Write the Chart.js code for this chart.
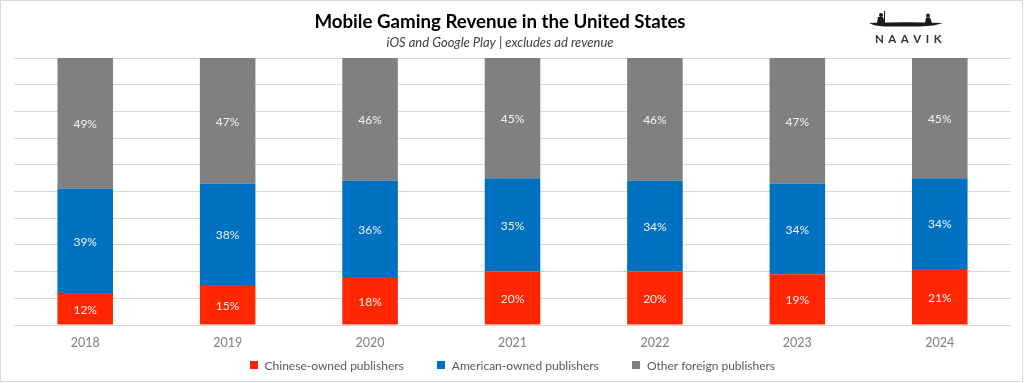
<!DOCTYPE html>
<html><head><meta charset="utf-8">
<script src="https://cdn.jsdelivr.net/npm/chart.js@4"></script>
<style>html,body{margin:0;padding:0;background:#fff}canvas{display:block}</style>
</head><body>
<canvas id="c" width="1024" height="383"></canvas>
<script>
const categories = ["2018","2019","2020","2021","2022","2023","2024"];
const chinese = [12,15,18,20,20,19,21];
const american = [39,38,36,35,34,34,34];
const otherForeign = [49,47,46,45,46,47,45];
const seriesNames = ["Chinese-owned publishers","American-owned publishers","Other foreign publishers"];
const seriesColors = ["#ff2600","#0070c0","#808080"];
const titleText = "Mobile Gaming Revenue in the United States";
const subtitleText = "iOS and Google Play | excludes ad revenue";
const FONT = "Lato, 'Open Sans', sans-serif";

const labelPlugin = {
  id: 'barLabels',
  afterDatasetsDraw(chart) {
    const ctx = chart.ctx;
    ctx.save();
    ctx.font = "12px " + FONT;
    ctx.fillStyle = "#f2f2f2";
    ctx.textAlign = "center";
    ctx.textBaseline = "middle";
    chart.data.datasets.forEach((ds, i) => {
      const meta = chart.getDatasetMeta(i);
      meta.data.forEach((bar, j) => {
        const top = Math.min(bar.y, bar.base), bot = Math.max(bar.y, bar.base);
        ctx.fillText(ds.data[j] + "%", bar.x, (top + bot) / 2 + 1);
      });
    });
    ctx.restore();
  }
};

const decorPlugin = {
  id: 'decor',
  afterDraw(chart) {
    const ctx = chart.ctx;
    ctx.save();
    ctx.strokeStyle = "#d9d9d9";
    ctx.lineWidth = 1;
    ctx.strokeRect(0.5, 0.5, 1022, 381);
    // titles
    ctx.textAlign = "center";
    ctx.textBaseline = "middle";
    ctx.fillStyle = "#000";
    ctx.font = "bold 18.7px " + FONT;
    ctx.fillText(titleText, 500, 22);
    ctx.fillStyle = "#404040";
    ctx.font = "italic 13px " + FONT;
    ctx.fillText(subtitleText, 500, 43);
    // legend
    ctx.font = "12px " + FONT;
    ctx.textAlign = "left";
    const box = 8, gapText = 6.6, gapItem = 33.5;
    const widths = seriesNames.map(n => box + gapText + ctx.measureText(n).width);
    const total = widths.reduce((a, b) => a + b, 0) + gapItem * (widths.length - 1);
    let lx = 512.5 - total / 2;
    const ly = 365;
    seriesNames.forEach((n, i) => {
      ctx.fillStyle = seriesColors[i];
      ctx.fillRect(Math.round(lx), ly - 4, box, box);
      ctx.fillStyle = "#595959";
      ctx.fillText(n, lx + box + gapText, ly + 1);
      lx += widths[i] + gapItem;
    });
    // logo: boat
    ctx.fillStyle = "#1a1a1a";
    ctx.beginPath();
    ctx.moveTo(869, 23);
    ctx.quadraticCurveTo(905, 21.5, 943, 23);
    ctx.quadraticCurveTo(935, 26, 920, 26.5);
    ctx.lineTo(885, 26.5);
    ctx.quadraticCurveTo(874, 26, 869, 23);
    ctx.fill();
    ctx.beginPath();
    ctx.arc(881, 15, 2, 0, Math.PI * 2);
    ctx.fill();
    ctx.beginPath();
    ctx.moveTo(877, 23); ctx.lineTo(878, 17); ctx.lineTo(883, 17); ctx.lineTo(885, 23); ctx.fill();
    ctx.fillRect(884, 11, 1, 12);
    ctx.beginPath();
    ctx.arc(928, 15.5, 2, 0, Math.PI * 2);
    ctx.fill();
    ctx.beginPath();
    ctx.moveTo(925, 23); ctx.lineTo(926, 17.5); ctx.lineTo(930, 17.5); ctx.lineTo(932, 23); ctx.fill();
    ctx.font = "bold 11.5px " + FONT;
    ctx.fillStyle = "#333";
    ctx.textAlign = "left";
    const letters = "NAAVIK".split("");
    let x = 875;
    letters.forEach(l => { ctx.fillText(l, x, 39); x += ctx.measureText(l).width + 4.5; });
    ctx.restore();
  }
};

new Chart(document.getElementById('c'), {
  type: 'bar',
  data: {
    labels: categories,
    datasets: [
      { label: seriesNames[0], data: chinese, backgroundColor: seriesColors[0] },
      { label: seriesNames[1], data: american, backgroundColor: seriesColors[1] },
      { label: seriesNames[2], data: otherForeign, backgroundColor: seriesColors[2] }
    ]
  },
  options: {
    responsive: false,
    animation: false,
    layout: { padding: { left: 14, right: 13, top: 58, bottom: 23 } },
    datasets: { bar: { barPercentage: 0.39, categoryPercentage: 1.0 } },
    scales: {
      x: {
        stacked: true,
        grid: { display: false, drawTicks: false },
        border: { display: false },
        ticks: { color: "#7f7f7f", font: { family: FONT, size: 12.5 }, padding: 10 }
      },
      y: {
        stacked: true,
        min: 0, max: 100,
        ticks: { display: false, stepSize: 10 },
        grid: { color: "#d9d9d9", drawTicks: false },
        border: { display: false }
      }
    },
    plugins: {
      title: { display: false },
      subtitle: { display: false },
      legend: { display: false },
      tooltip: { enabled: false }
    }
  },
  plugins: [labelPlugin, decorPlugin]
});
</script>
</body></html>
